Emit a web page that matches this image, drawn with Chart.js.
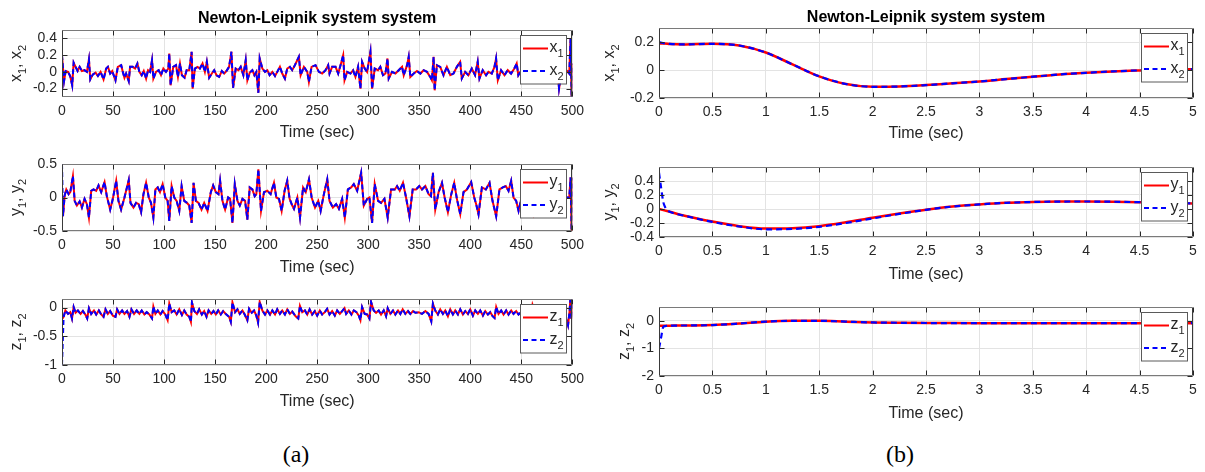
<!DOCTYPE html>
<html>
<head>
<meta charset="utf-8">
<script src="https://cdn.jsdelivr.net/npm/chart.js@4.4.1/dist/chart.umd.min.js"></script>
<style>
  body { margin: 0; width: 1205px; height: 472px; background: #fff; position: relative; overflow: hidden; }
  canvas { position: absolute; }
  .cap { position: absolute; font-family: 'Liberation Serif', 'Times New Roman', serif; font-size: 24px; color: #000; transform: translateX(-50%); white-space: nowrap; }
</style>
</head>
<body>
<canvas id="a1"></canvas>
<canvas id="a2"></canvas>
<canvas id="a3"></canvas>
<canvas id="b1"></canvas>
<canvas id="b2"></canvas>
<canvas id="b3"></canvas>
<div class="cap" style="left:296px; top:441px">(a)</div>
<div class="cap" style="left:900px; top:441px">(b)</div>
<script>
// ---- (a) long run, 0..500 s. Both trajectories coincide after the first
// few seconds, so each state keeps its two start values plus one shared body.
const timeXa = [0, 2, 3.6, 5.9, 8, 10, 11.4, 13.3, 15.3, 17.3, 19.5, 22, 24.4, 26.4, 27.7, 30.3, 32.9, 35.2, 37.8, 40.7, 43.3,
  45, 47.2, 49.2, 52.4, 54.7, 58, 59.6, 61.2, 62.8, 65.4, 66.7, 69.3, 71.6, 73.9, 75.8, 78.1, 80.1, 82.4, 84.3, 86.3,
  88.2, 89.5, 92.1, 94.7, 97, 99.3, 101.9, 104.2, 105.1, 106.4, 109, 111.7, 113.6, 115.6, 117.5, 120.1, 122.1, 124.7, 127, 128,
  130.2, 132.8, 135.1, 137.7, 140, 141.9, 144.2, 146.8, 149.1, 151.4, 154, 156.6, 158.9, 161.1, 163.7, 166, 167.6, 170.2, 172.9, 175.1,
  177.7, 180, 181.6, 183.9, 186.5, 188.5, 190.4, 192.4, 193.7, 196.3, 198.9, 201.2, 203.4, 206.1, 208.7, 210.9, 213.5, 215.8, 218.4, 220.7,
  223.3, 225.6, 228.2, 232.1, 233.8, 237, 240.3, 241.9, 244.5, 248.4, 251.7, 254.9, 258.2, 260.8, 262.1, 264.7, 268, 270.6, 272.9, 275.5,
  276.8, 279.4, 282.6, 285.2, 287.5, 290.1, 292.4, 294, 296.6, 298.9, 302.2, 303.8, 306.4, 309.6, 311.9, 314.5, 316.9, 318.9, 320.1, 323.4,
  326.7, 329.9, 333.2, 334.8, 338.1, 339.7, 341.3, 344.6, 347.8, 351.1, 354.3, 357.6, 360.8, 362.4, 364.1, 365.1, 367.3, 370.6, 373.8, 377.1,
  380.4, 383.6, 386.9, 390.1, 391.7, 395, 398.2, 401.5, 404.7, 407.3, 409, 412.2, 415.5, 417.8, 421.1, 423.7, 425.3, 427, 430.2, 433.5,
  436.7, 440, 443.2, 445.5, 447.1, 450, 453, 456, 459, 460.5, 464, 468, 472, 476, 480, 483, 485, 487, 490, 493,
  495, 497, 498.3, 499.3, 500];
const xAstart = [0.19, 0.2];
const xAbody = [-0.11, 0.01, 0, -0.05, -0.16, 0.11, 0.06, 0.01, 0.06, 0.01, 0.02, 0, 0.15, -0.09, -0.03, -0.01, -0.05, 0, -0.09, 0.04,
  0.06, -0.02, 0.01, -0.1, 0.06, 0.08, 0, -0.07, -0.02, -0.11, 0.06, 0.06, 0.04, 0.1, 0, -0.04, 0.01, -0.08, 0.02, 0,
  0.14, -0.08, 0, 0.02, -0.04, 0.04, 0, 0.04, 0.22, -0.16, 0.06, 0.08, -0.06, 0.1, -0.04, -0.07, 0.02, 0.02, 0.24, -0.2,
  0.04, 0.06, 0.04, 0.1, 0, 0.12, -0.07, -0.02, 0.02, -0.04, -0.06, 0.01, -0.02, 0.01, 0.06, 0.24, -0.19, 0.04, 0.02, 0.06,
  -0.04, 0.14, -0.1, -0.01, 0.02, -0.04, 0, -0.25, 0.16, 0.04, 0, 0.02, -0.04, 0, -0.05, 0, 0.06, -0.02, -0.08, 0.04,
  0.06, 0.02, 0.08, 0.18, -0.04, 0.06, 0, -0.12, 0.06, 0.08, 0, -0.02, 0.02, 0.08, -0.02, 0.06, 0.06, -0.02, 0.08, 0.2,
  -0.1, 0, -0.02, 0.02, -0.06, 0.06, -0.2, 0.12, 0.04, 0, 0.24, -0.2, 0.04, 0.02, 0.06, -0.04, -0.02, 0.16, -0.08, 0,
  -0.02, 0.02, 0.06, -0.04, 0.08, 0.18, -0.06, -0.02, 0.01, -0.02, 0.02, 0, -0.06, -0.1, 0.18, -0.22, 0.08, 0.06, -0.04, 0.06,
  -0.04, -0.02, 0.06, 0.12, -0.08, 0, -0.04, 0.04, -0.04, 0.12, -0.08, 0.02, -0.04, 0, -0.02, 0.06, 0.16, -0.1, 0.02, -0.04,
  0.02, -0.02, 0.04, 0.1, -0.04, 0.02, -0.03, 0.05, 0.14, -0.08, 0.02, -0.03, 0.06, 0.01, -0.05, 0.08, 0.12, -0.2, 0.03, 0,
  0.01, -0.02, 0.4, -0.35, 0.1];

const timeYa = [0, 1, 2.6, 4.2, 6.5, 8.1, 10.7, 12.4, 14.6, 17.3, 19.5, 22.1, 24.4, 26.4, 28.6, 30.9, 33.5, 35.8, 38.4, 41.7, 43.9,
  47.2, 49.8, 53.1, 55.3, 57.9, 61.2, 65.4, 67.1, 70, 72.6, 75.2, 77.5, 79.8, 82.4, 85, 87.2, 89.5, 91.5, 93.8, 96,
  98.6, 101.2, 103.5, 105.1, 107.4, 110, 112.3, 114.9, 117.2, 119.8, 122.4, 124.7, 127, 128.9, 131.2, 133.8, 136.7, 139.3, 142.6, 145.8,
  148.1, 150.7, 153.3, 154.9, 157.2, 159.8, 162.8, 164.7, 167, 169.3, 171.9, 174.2, 176.8, 179.4, 181.6, 183.9, 186.5, 188.8, 190.4, 192.4,
  195, 197.9, 201.2, 204.4, 207.7, 210, 212.6, 215.2, 218.1, 220.7, 223, 225.6, 227.3, 230.6, 233.2, 236.2, 238.8, 242, 244.6, 247.9,
  251.1, 253.4, 256.6, 259.9, 262.1, 265.4, 268.6, 271.3, 274.5, 277.1, 280.1, 283.3, 285.9, 289.2, 293.1, 295.7, 299, 301.2, 303.8, 306.4,
  309.7, 312.6, 315.9, 319.1, 322.4, 326, 328.3, 330.9, 334.1, 337.1, 340.4, 343.6, 346.9, 350.1, 352.7, 356, 359.2, 361.5, 363.4, 365.7,
  369, 372.3, 374.9, 378.1, 381.4, 384.3, 386.9, 390.2, 393.4, 396.7, 400.9, 403.9, 405.8, 408.1, 411.4, 415.3, 418.9, 421.8, 425.4, 428.6,
  431.9, 434.8, 437.5, 440.1, 442.4, 445, 447.3, 451, 455, 458, 462, 466, 470, 473, 477, 481, 485, 488, 491, 494,
  497, 498.3, 499.3, 500];
const yAstart = [0, 0.5];
const yAbody = [-0.28, 0.03, 0.12, 0.05, 0.08, 0.32, -0.05, -0.12, -0.06, -0.15, -0.02, -0.1, -0.3, 0.1, 0.12, 0.1, 0.18, 0.08, 0.23, 0.02,
  -0.18, -0.02, 0.25, -0.05, -0.18, 0, 0.26, -0.08, -0.15, -0.08, -0.1, -0.22, 0.05, 0.22, 0, -0.08, -0.3, 0.12, 0.15, 0.08,
  0.2, 0, -0.05, -0.35, 0.17, 0, -0.05, -0.2, 0.17, -0.05, -0.08, -0.12, -0.38, 0.22, -0.05, -0.08, -0.18, -0.08, -0.2, 0.08,
  0.18, 0.08, 0.05, 0.25, -0.05, -0.18, 0, -0.02, -0.38, 0.2, -0.05, -0.12, -0.02, -0.05, -0.33, 0.15, 0.12, 0.02, 0.05, 0.42,
  -0.2, 0.08, 0.1, 0.05, 0.22, 0, -0.02, -0.2, 0.1, 0.25, -0.02, -0.12, -0.17, 0, -0.3, 0.15, 0.08, 0.27, 0, -0.15,
  -0.05, -0.2, 0.05, 0.27, -0.05, -0.15, -0.1, -0.17, -0.02, -0.3, 0.12, 0.15, 0.2, 0.1, 0.37, -0.12, -0.02, 0, -0.38, 0.2,
  -0.05, -0.08, -0.02, -0.3, 0.12, 0.12, 0.17, 0.1, 0.22, 0, -0.28, 0.12, 0.12, 0.17, 0.12, 0.17, 0.05, 0.02, 0.37, -0.18,
  0.08, 0.22, 0, -0.22, 0.05, 0.22, -0.02, -0.25, 0.08, 0.12, 0.23, 0, -0.1, -0.25, 0.15, 0.12, 0.22, -0.05, -0.28, 0.12,
  0.15, 0.17, 0.1, 0.25, 0, -0.05, -0.2, 0.05, 0.2, -0.05, -0.25, 0.1, 0.2, 0, -0.15, 0.05, 0.22, -0.1, 0, 0,
  0, 0.3, -0.55, 0.3];

const timeZa = [0, 1.6, 3.3, 5.9, 8.1, 9.8, 11.4, 13.3, 15.6, 18.2, 20.5, 23.1, 24.7, 26.4, 28.6, 31.3, 33.5, 36.1, 38.4, 40.7, 42.6,
  44.9, 47.2, 49.8, 52.4, 54, 56.3, 58.9, 61.2, 63.8, 66.1, 68, 70.6, 73.2, 75.8, 78.1, 80.7, 83, 85.6, 88.2, 89.5,
  91.5, 93.8, 96.4, 98.6, 101.2, 103.5, 105.1, 107.4, 110, 112.3, 114.9, 117.5, 119.8, 122.1, 124.7, 126.3, 127.3, 129.6, 132.2, 134.4,
  137, 139.3, 141.6, 143.6, 146.2, 148.4, 150.7, 153, 155.6, 157.9, 160.5, 163.7, 165.4, 167, 169.6, 171.9, 174.2, 176.8, 179, 181.6,
  183.3, 185.9, 188.2, 190.4, 192.1, 193.7, 196.3, 198.9, 201.2, 203.8, 206.1, 208.7, 210.9, 213.5, 215.8, 218.4, 220.7, 223.3, 225.6, 228.9,
  231.5, 233.1, 235.4, 238, 240.3, 242.6, 245.1, 247.7, 250, 252.6, 254.9, 257.5, 259.8, 262.1, 264.7, 267.3, 269.6, 272.2, 274.5, 276.8,
  278.4, 281, 283.6, 285.9, 288.5, 290.8, 292.4, 294, 296.6, 298.9, 301.2, 302.8, 305.4, 307.7, 310.3, 312.6, 315.2, 317.5, 319.1, 321.7,
  324.3, 326.6, 329.2, 331.5, 333.8, 336.4, 339, 341.3, 343.9, 346.2, 349.5, 352.7, 356, 359.2, 361.8, 363.4, 365.7, 368.3, 370.6, 373.2,
  375.5, 378.1, 380.4, 383, 385.3, 387.9, 390.2, 392.8, 395.1, 397.7, 400, 402.6, 404.9, 407.5, 409.8, 412.4, 414.7, 417.3, 419.6, 421.9,
  423.8, 425.4, 427.7, 430.3, 432.6, 435.2, 437.5, 440.1, 442.4, 445, 447.3, 449.9, 453, 456, 459, 461, 464, 468, 472, 476,
  480, 484, 488, 491, 494, 495.8, 497.4, 498.2, 499, 500];
const zAstart = [-0.2, -1];
const zAbody = [-0.16, -0.05, -0.11, -0.08, -0.19, 0.01, -0.09, -0.05, -0.11, -0.06, -0.13, -0.19, -0.01, -0.11, -0.05, -0.12, -0.05, -0.12, -0.16, -0.03,
  -0.11, -0.06, -0.14, -0.16, -0.03, -0.11, -0.05, -0.11, -0.06, -0.16, -0.03, -0.11, -0.05, -0.11, -0.05, -0.12, -0.08, -0.12, -0.19, 0.02,
  -0.11, -0.05, -0.12, -0.06, -0.12, -0.22, 0.07, -0.08, -0.05, -0.12, -0.03, -0.13, -0.05, -0.12, -0.16, -0.25, 0.09, -0.06, -0.11, -0.03,
  -0.12, -0.06, -0.16, -0.05, -0.11, -0.06, -0.12, -0.05, -0.12, -0.06, -0.11, -0.16, -0.25, 0.09, -0.08, -0.03, -0.11, -0.05, -0.12, -0.22,
  -0.02, -0.09, -0.05, -0.14, -0.26, 0.1, -0.05, -0.12, -0.05, -0.12, -0.05, -0.12, -0.03, -0.11, -0.05, -0.12, -0.03, -0.11, -0.07, -0.15,
  -0.19, 0.03, -0.08, -0.05, -0.12, -0.03, -0.12, -0.06, -0.14, -0.05, -0.12, -0.08, -0.02, -0.12, -0.06, -0.14, -0.05, -0.11, -0.06, -0.01,
  -0.11, -0.05, -0.12, -0.05, -0.08, -0.14, -0.22, 0.01, -0.11, -0.12, -0.19, 0.1, -0.05, -0.09, -0.05, -0.12, -0.05, -0.15, -0.01, -0.11,
  -0.05, -0.12, -0.05, -0.11, -0.03, -0.11, -0.06, -0.11, -0.06, -0.09, -0.08, -0.11, -0.06, -0.11, -0.24, 0.07, -0.05, -0.12, -0.03, -0.11,
  -0.05, -0.15, -0.03, -0.12, -0.05, -0.12, -0.03, -0.12, -0.06, -0.11, -0.03, -0.14, -0.05, -0.11, -0.05, -0.14, -0.06, -0.12, -0.08, -0.15,
  -0.18, 0.01, -0.11, -0.05, -0.12, -0.05, -0.12, -0.05, -0.11, -0.06, -0.12, -0.08, -0.12, -0.05, -0.2, 0.05, -0.1, -0.05, -0.12, -0.06,
  -0.11, -0.05, -0.12, -0.08, -0.2, -0.31, -0.05, 0.2, -0.2, 0.05];

// ---- (b) first 5 s of the same run
const timeB = [0, 0.05, 0.1, 0.25, 0.5, 0.75, 1, 1.25, 1.5, 1.75, 2, 2.25, 2.5, 2.75, 3, 3.25, 3.5, 3.75, 4, 4.25, 4.5, 4.75, 5];
const xBstart = [0.19, 0.2];
const xBbody = [0.19, 0.186, 0.183, 0.187, 0.175, 0.125, 0.04, -0.045, -0.1, -0.12, -0.118, -0.108, -0.095, -0.082, -0.065,
  -0.048, -0.032, -0.02, -0.01, -0.003, 0.003, 0.006];
const y1B = [0, -0.02, -0.04, -0.1, -0.18, -0.245, -0.28, -0.275, -0.245, -0.19, -0.125, -0.065, -0.01, 0.035, 0.065, 0.088,
  0.1, 0.106, 0.107, 0.104, 0.098, 0.09, 0.08];
const timeY2B = [0, 0.02, 0.04, 0.06, 0.08, 0.1, 0.25, 0.5, 0.75, 1, 1.25, 1.5, 1.75, 2, 2.25, 2.5, 2.75, 3, 3.25, 3.5, 3.75, 4, 4.25, 4.5, 4.75, 5];
const y2B = [0.52, 0.3, 0.1, 0.02, -0.02, -0.04, -0.1, -0.185, -0.25, -0.29, -0.285, -0.255, -0.2, -0.135, -0.07, -0.012, 0.035,
  0.065, 0.088, 0.1, 0.106, 0.107, 0.104, 0.098, 0.09, 0.08];
const z1B = [-0.18, -0.178, -0.176, -0.17, -0.155, -0.1, -0.03, 0, 0, -0.03, -0.06, -0.072, -0.08, -0.084, -0.085, -0.085, -0.085,
  -0.085, -0.085, -0.085, -0.085, -0.085, -0.085];
const timeZ2B = [0, 0.02, 0.04, 0.06, 0.1, 0.25, 0.5, 0.75, 1, 1.25, 1.5, 1.75, 2, 2.25, 2.5, 2.75, 3, 3.25, 3.5, 3.75, 4, 4.25, 4.5, 4.75, 5];
const z2B = [-1, -0.6, -0.22, -0.19, -0.176, -0.17, -0.155, -0.1, -0.03, 0, 0, -0.03, -0.06, -0.072, -0.08, -0.084, -0.085, -0.085,
  -0.085, -0.085, -0.085, -0.085, -0.085, -0.085, -0.085];

// axis ticks
const ticksTa = [0, 50, 100, 150, 200, 250, 300, 350, 400, 450, 500];
const ticksTb = [0, 0.5, 1, 1.5, 2, 2.5, 3, 3.5, 4, 4.5, 5];
const ticksXa = [-0.2, 0, 0.2, 0.4];
const ticksYa = [-0.5, 0, 0.5];
const ticksZa = [-1, -0.5, 0];
const ticksXb = [-0.2, 0, 0.2];
const ticksYb = [-0.4, -0.2, 0, 0.2, 0.4];
const ticksZb = [-2, -1, 0];

const FONT = "'Liberation Sans', Arial, sans-serif";
const INK = '#262626';
const GRID = '#e3e3e3';
const TICK = 5;

const pts = (ts, vs) => ts.map((t, i) => ({ x: t, y: vs[i] }));

// text with subscripts: parts = [[text, isSub], ...]
function subWidth(ctx, parts, size) {
  let w = 0;
  parts.forEach(([s, sub]) => {
    ctx.font = `${sub ? Math.round(size * 0.68) : size}px ${FONT}`;
    w += ctx.measureText(s).width;
  });
  return w;
}
function drawSub(ctx, parts, x, y, size) {
  let cx = x;
  parts.forEach(([s, sub]) => {
    ctx.font = `${sub ? Math.round(size * 0.68) : size}px ${FONT}`;
    ctx.fillText(s, cx, y + (sub ? size * 0.32 : 0));
    cx += ctx.measureText(s).width;
  });
}

// MATLAB-like axes frame: box, inward ticks, legend, title, y label
const matlabFrame = {
  id: 'matlabFrame',
  afterDatasetsDraw(chart, args, o) {
    const { ctx, chartArea: a, scales: { x, y } } = chart;
    ctx.save();
    const L = Math.round(a.left) + 0.5, R = Math.round(a.right) - 0.5;
    const T = Math.round(a.top) + 0.5, B = Math.round(a.bottom) - 0.5;

    ctx.strokeStyle = INK;
    ctx.lineWidth = 1;
    ctx.beginPath();
    x.ticks.forEach(t => {
      const px = Math.round(x.getPixelForValue(t.value)) + 0.5;
      ctx.moveTo(px, B); ctx.lineTo(px, B - TICK);
      ctx.moveTo(px, T); ctx.lineTo(px, T + TICK);
    });
    y.ticks.forEach(t => {
      const py = Math.round(y.getPixelForValue(t.value)) + 0.5;
      ctx.moveTo(L, py); ctx.lineTo(L + TICK, py);
      ctx.moveTo(R, py); ctx.lineTo(R - TICK, py);
    });
    ctx.stroke();

    // frame: verticals dark, horizontals a touch lighter
    ctx.strokeStyle = '#3a3a3a';
    ctx.beginPath();
    ctx.moveTo(L, T); ctx.lineTo(L, B);
    ctx.moveTo(R, T); ctx.lineTo(R, B);
    ctx.stroke();
    ctx.strokeStyle = '#7a7a7a';
    ctx.beginPath();
    ctx.moveTo(L, T); ctx.lineTo(R, T);
    ctx.moveTo(L, B); ctx.lineTo(R, B);
    ctx.stroke();

    // legend box in the upper right corner
    const bw = 46, bh = 48.5;
    const bx = Math.round(a.right - 6 - bw), by = Math.round(a.top + 5);
    ctx.fillStyle = '#fff';
    ctx.fillRect(bx, by, bw, bh);
    ctx.strokeStyle = '#5a5a5a';
    ctx.strokeRect(bx + 0.5, by + 0.5, bw, bh);
    chart.data.datasets.forEach((ds, i) => {
      const ry = by + (i === 0 ? 13.5 : 36);
      ctx.save();
      ctx.strokeStyle = ds.borderColor;
      ctx.lineWidth = 2;
      ctx.setLineDash(i === 0 ? [] : [5, 3.5]);
      ctx.beginPath();
      ctx.moveTo(bx + 3, ry); ctx.lineTo(bx + 28, ry);
      ctx.stroke();
      ctx.restore();
      ctx.fillStyle = INK;
      ctx.textBaseline = 'alphabetic';
      ctx.textAlign = 'left';
      drawSub(ctx, [[o.sym, false], [String(i + 1), true]], bx + 29.5, ry + 3.8, 16);
    });
    ctx.restore();
  },
  afterDraw(chart, args, o) {
    const { ctx, chartArea: a } = chart;
    ctx.save();
    ctx.fillStyle = INK;
    ctx.textBaseline = 'alphabetic';
    ctx.textAlign = 'left';
    // rotated y label: "s1, s2" with subscripts
    const parts = [[o.sym, false], ['1', true], [', ', false], [o.sym, false], ['2', true]];
    const w = subWidth(ctx, parts, 16);
    ctx.save();
    ctx.translate(o.ylabelX, (a.top + a.bottom) / 2);
    ctx.rotate(-Math.PI / 2);
    drawSub(ctx, parts, -w / 2, 0, 16);
    ctx.restore();
    if (o.title) {
      ctx.font = `bold 16px ${FONT}`;
      ctx.textAlign = 'center';
      ctx.fillStyle = '#000';
      ctx.fillText(o.title, (a.left + a.right) / 2, o.titleY);
    }
    ctx.restore();
  }
};

const RED = '#ff0000', BLUE = '#0000ff';

const panels = [
  { id: 'a1', rect: [0, 0, 590, 145], padTop: 30, padRight: 16, xh: 48, xlabelY: 133, ylabelX: 20.5,
    sym: 'x', t1: timeXa, v1: [xAstart[0], ...xAbody], t2: timeXa, v2: [xAstart[1], ...xAbody],
    xr: [0, 500], xt: ticksTa, yr: [-0.3, 0.5], yt: ticksXa, title: 'Newton-Leipnik system system', titleY: 22.5, wide: true },
  { id: 'a2', rect: [0, 140, 590, 140], padTop: 24, padRight: 16, xh: 49, xlabelY: 267.5, ylabelX: 20.5,
    sym: 'y', t1: timeYa, v1: [yAstart[0], ...yAbody], t2: timeYa, v2: [yAstart[1], ...yAbody],
    xr: [0, 500], xt: ticksTa, yr: [-0.5, 0.5], yt: ticksYa, wide: true },
  { id: 'a3', rect: [0, 280, 590, 135], padTop: 19, padRight: 16, xh: 50, xlabelY: 401.5, ylabelX: 20.5,
    sym: 'z', t1: timeZa, v1: [zAstart[0], ...zAbody], t2: timeZa, v2: [zAstart[1], ...zAbody],
    xr: [0, 500], xt: ticksTa, yr: [-1, 0.15], yt: ticksZa, wide: true },
  { id: 'b1', rect: [597, 0, 608, 145], padTop: 28, padRight: 12, xh: 47, xlabelY: 134, ylabelX: 16.5,
    sym: 'x', t1: timeB, v1: [xBstart[0], ...xBbody], t2: timeB, v2: [xBstart[1], ...xBbody],
    xr: [0, 5], xt: ticksTb, yr: [-0.2, 0.3], yt: ticksXb, title: 'Newton-Leipnik system system', titleY: 21.7 },
  { id: 'b2', rect: [597, 140, 608, 145], padTop: 27, padRight: 12, xh: 48, xlabelY: 275, ylabelX: 16.5,
    sym: 'y', t1: timeB, v1: y1B, t2: timeY2B, v2: y2B,
    xr: [0, 5], xt: ticksTb, yr: [-0.4, 0.6], yt: ticksYb },
  { id: 'b3', rect: [597, 285, 608, 140], padTop: 22, padRight: 12, xh: 49, xlabelY: 414, ylabelX: 32,
    sym: 'z', t1: timeB, v1: z1B, t2: timeZ2B, v2: z2B,
    xr: [0, 5], xt: ticksTb, yr: [-2, 0.5], yt: ticksZb }
];

panels.forEach(p => {
  const cv = document.getElementById(p.id);
  const [L, T, W, H] = p.rect;
  cv.width = W; cv.height = H;
  Object.assign(cv.style, { left: L + 'px', top: T + 'px', width: W + 'px', height: H + 'px' });
  const titleLh = 16 * 1.2;
  const smooth = !p.wide;

  new Chart(cv, {
    type: 'line',
    data: {
      datasets: [
        { label: p.sym + '1', data: pts(p.t1, p.v1), borderColor: RED, borderWidth: p.wide ? 2 : 2.5, order: 1,
          pointRadius: 0, tension: 0, cubicInterpolationMode: smooth ? 'monotone' : 'default', fill: false },
        { label: p.sym + '2', data: pts(p.t2, p.v2), borderColor: BLUE, borderWidth: p.wide ? 2 : 2.2, order: 0,
          borderDash: p.wide ? [5, 3] : [6, 4], pointRadius: 0, tension: 0,
          cubicInterpolationMode: smooth ? 'monotone' : 'default', fill: false }
      ]
    },
    options: {
      responsive: false,
      animation: false,
      events: [],
      layout: { padding: { top: p.padTop, right: p.padRight, left: 0, bottom: 0 } },
      plugins: {
        legend: { display: false },
        tooltip: { enabled: false },
        matlabFrame: { sym: p.sym, ylabelX: p.ylabelX, title: p.title, titleY: p.titleY }
      },
      scales: {
        x: {
          type: 'linear', min: p.xr[0], max: p.xr[1],
          afterBuildTicks: s => { s.ticks = p.xt.map(v => ({ value: v })); },
          afterFit: s => { s.height = p.xh; },
          grid: { color: GRID, drawTicks: false },
          border: { display: false },
          ticks: { color: INK, padding: 6, autoSkip: false, maxRotation: 0, font: { family: FONT, size: 14 }, callback: v => String(v) },
          title: { display: true, text: 'Time (sec)', color: INK, font: { family: FONT, size: 16 },
                   padding: { top: 0, bottom: (T + H) - p.xlabelY - titleLh / 2 } }
        },
        y: {
          type: 'linear', min: p.yr[0], max: p.yr[1],
          afterBuildTicks: s => { s.ticks = p.yt.map(v => ({ value: v })); },
          afterFit: s => { s.width = 62; },
          grid: { color: GRID, drawTicks: false },
          border: { display: false },
          ticks: { color: INK, padding: 5, autoSkip: false, font: { family: FONT, size: 14 }, callback: v => String(v) }
        }
      }
    },
    plugins: [matlabFrame]
  });
});
</script>
</body>
</html>
